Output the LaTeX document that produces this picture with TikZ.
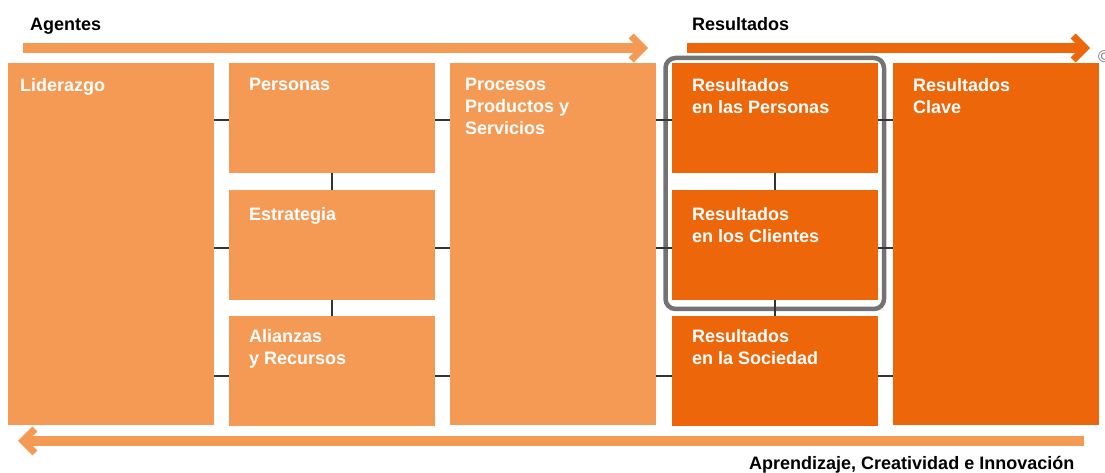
\documentclass[tikz,border=0pt]{standalone}
\usepackage{fontspec}
\setmainfont{Liberation Sans}
\usetikzlibrary{positioning, calc, arrows.meta}

\definecolor{agentorange}{RGB}{245,154,85}
\definecolor{resultorange}{RGB}{237,102,10}
\definecolor{framegrey}{RGB}{115,115,115}

\begin{document}
\begin{tikzpicture}[x=1pt, y=1pt, node distance=16pt,
  box/.style={fill=agentorange, minimum width=206pt, minimum height=110pt, inner sep=0pt, outer sep=0pt},
  resbox/.style={box, fill=resultorange},
  tall/.style={minimum height=362pt},
  boxtext/.style={text=white, font=\bfseries\fontsize{18}{22}\selectfont, align=left, inner sep=0pt, anchor=north west},
  head/.style={font=\bfseries\fontsize{18}{22}\selectfont, inner sep=0pt, anchor=base west},
  link/.style={line width=2.5pt, black!80},
  frame/.style={draw=framegrey, line width=4.5pt, rounded corners=10pt},
  flow/.style={line width=9.5pt, -{Straight Barb[length=12pt, width=24pt, line width=7pt]}}]
  \useasboundingbox (0,0) rectangle (1105,473);

  % agentes
  \node[box, tall, anchor=north west] (lid) at (8,410) {};
  \node[box, right=15pt of lid.north east, anchor=north west] (per) {};
  \node[box, below=17pt of per] (est) {};
  \node[box, below=16pt of est] (ali) {};
  \node[box, tall, right=15pt of per.north east, anchor=north west] (pro) {};

  % resultados
  \node[resbox, right=16pt of pro.north east, anchor=north west] (rpe) {};
  \node[resbox, below=17pt of rpe] (rcl) {};
  \node[resbox, below=16pt of rcl] (rso) {};
  \node[resbox, tall, right=15pt of rpe.north east, anchor=north west] (cla) {};

  \node[boxtext] at ($(lid.north west)+(12,-15)$) {Liderazgo};
  \node[boxtext] at ($(per.north west)+(20,-15)$) {Personas};
  \node[boxtext] at ($(est.north west)+(20,-17)$) {Estrategia};
  \node[boxtext] at ($(ali.north west)+(20,-13)$) {Alianzas\\y Recursos};
  \node[boxtext] at ($(pro.north west)+(15,-15)$) {Procesos\\Productos y\\Servicios};
  \node[boxtext] at ($(rpe.north west)+(20,-15)$) {Resultados\\en las Personas};
  \node[boxtext] at ($(rcl.north west)+(20,-17)$) {Resultados\\en los Clientes};
  \node[boxtext] at ($(rso.north west)+(20,-13)$) {Resultados\\en la Sociedad};
  \node[boxtext] at ($(cla.north west)+(20,-15)$) {Resultados\\Clave};

  \draw[frame] ($(rpe.north west)+(-6.5,5)$) rectangle ($(rcl.south east)+(6,-9)$);

  % conexiones
  \foreach \row/\dy in {per/2,est/3,ali/5}
    \draw[link] ($(\row.west)+(0,-\dy)$) -- ($(\row.west -| lid.east)+(0,-\dy)$)
                ($(\row.east)+(0,-\dy)$) -- ($(\row.east -| pro.west)+(0,-\dy)$);
  \foreach \row/\dy in {rpe/2,rcl/3,rso/5}
    \draw[link] ($(\row.west)+(0,-\dy)$) -- ($(\row.west -| pro.east)+(0,-\dy)$)
                ($(\row.east)+(0,-\dy)$) -- ($(\row.east -| cla.west)+(0,-\dy)$);
  \draw[link] (per) -- (est) (est) -- (ali)
              (rpe) -- (rcl) (rcl) -- (rso);

  % flechas
  \coordinate (agl) at (23,425);
  \coordinate (agr) at (648,425);
  \coordinate (rsl) at (687,425);
  \coordinate (rsr) at (1090,425);
  \coordinate (apr) at (1084,32);
  \coordinate (apl) at (18,32);
  \draw[flow, agentorange] (agl) -- (agr);
  \draw[flow, resultorange] (rsl) -- (rsr);
  \draw[flow, agentorange, line width=10pt] (apr) -- (apl);

  \node[head] at (30,442) {Agentes};
  \node[head] at (692,442) {Resultados};
  \node[head] at (749,3) {Aprendizaje, Creatividad e Innovación};
  \node[text=framegrey, font=\fontsize{17}{17}\selectfont, inner sep=0pt, anchor=west] at (1098,416) {©};
\end{tikzpicture}
\end{document}
